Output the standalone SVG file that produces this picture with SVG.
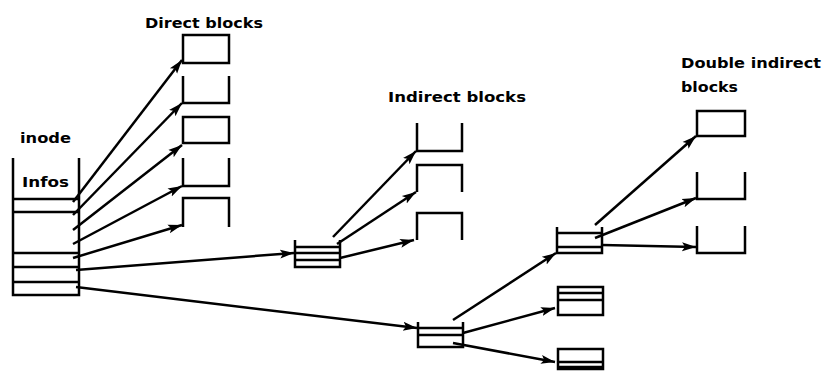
<svg xmlns="http://www.w3.org/2000/svg" width="824" height="371" viewBox="0 0 824 371">
<defs>
<marker id="ah" markerUnits="userSpaceOnUse" markerWidth="16" markerHeight="12" refX="14" refY="6" orient="auto">
<path d="M0,1.5 L14,6 L0,10.5 L3,6 Z" fill="#000"/>
</marker>
<style>
.b{fill:none;stroke:#000;stroke-width:2.5}
.c{fill:none;stroke:#000;stroke-width:2.5;marker-end:url(#ah)}
.t{font-family:"DejaVu Sans","Liberation Sans",sans-serif;font-weight:bold;font-size:14px;fill:#000}
</style>
</defs>
<rect width="824" height="371" fill="#fff"/>
<g id="labels">
<text class="t" x="145" y="28" textLength="118" lengthAdjust="spacingAndGlyphs">Direct blocks</text>
<text class="t" x="20" y="143" textLength="51" lengthAdjust="spacingAndGlyphs">inode</text>
<text class="t" x="22" y="187" textLength="47" lengthAdjust="spacingAndGlyphs">Infos</text>
<text class="t" x="388" y="102" textLength="138" lengthAdjust="spacingAndGlyphs">Indirect blocks</text>
<text class="t" x="681" y="68" textLength="140" lengthAdjust="spacingAndGlyphs">Double indirect</text>
<text class="t" x="681" y="92" textLength="57" lengthAdjust="spacingAndGlyphs">blocks</text>
</g>
<g id="inode">
<path class="b" d="M13,158 V295 H79 V158 M13,199 H79 M13,212 H79 M13,253 H79 M13,267 H79 M13,282 H79"/>
</g>
<g id="direct-blocks">
<rect class="b" x="183" y="35" width="46" height="28"/>
<path class="b" d="M183,76 V103 H229 V76"/>
<rect class="b" x="183" y="117" width="46" height="26"/>
<path class="b" d="M183,158 V186 H229 V158"/>
<path class="b" d="M183,227 V198 H229 V227"/>
</g>
<g id="indirect-node">
<path class="b" d="M295,240 V267 H340 V240 M295,247 H340 M295,253 H340 M295,260 H340"/>
</g>
<g id="indirect-blocks">
<path class="b" d="M417,123 V151 H462 V123"/>
<path class="b" d="M417,192 V165 H462 V192"/>
<path class="b" d="M417,240 V213 H462 V240"/>
</g>
<g id="double-node">
<path class="b" d="M418,322 V347 H463 V322 M418,328 H463 M418,335 H463"/>
</g>
<g id="double-sub1">
<path class="b" d="M557,227 V253 H602 V227 M557,233 H602 M557,247 H602"/>
</g>
<g id="double-sub2">
<rect class="b" x="558" y="287" width="45" height="28"/>
<path class="b" d="M558,293 H603 M558,300 H603"/>
</g>
<g id="double-sub3">
<rect class="b" x="558" y="349" width="45" height="20"/>
<path class="b" d="M558,362 H603 M558,367 H603"/>
</g>
<g id="double-blocks">
<rect class="b" x="697" y="111" width="48" height="25"/>
<path class="b" d="M697,172 V199 H745 V172"/>
<path class="b" d="M697,226 V253 H745 V226"/>
</g>
<g id="connectors">
<line class="c" x1="73" y1="202" x2="182" y2="60"/>
<line class="c" x1="73" y1="215" x2="182" y2="103"/>
<line class="c" x1="73" y1="230" x2="182" y2="145"/>
<line class="c" x1="73" y1="244" x2="182" y2="186"/>
<line class="c" x1="73" y1="258" x2="182" y2="225"/>
<line class="c" x1="76" y1="270" x2="294" y2="253"/>
<line class="c" x1="76" y1="287" x2="417" y2="328"/>
<line class="c" x1="333" y1="237" x2="416" y2="151"/>
<line class="c" x1="337" y1="244" x2="416" y2="192"/>
<line class="c" x1="340" y1="258" x2="414" y2="240"/>
<line class="c" x1="453" y1="320" x2="556" y2="253"/>
<line class="c" x1="463" y1="333" x2="555" y2="308"/>
<line class="c" x1="453" y1="343" x2="555" y2="362"/>
<line class="c" x1="595" y1="225" x2="696" y2="136"/>
<line class="c" x1="595" y1="238" x2="696" y2="198"/>
<line class="c" x1="602" y1="245" x2="696" y2="247"/>
</g>
</svg>
